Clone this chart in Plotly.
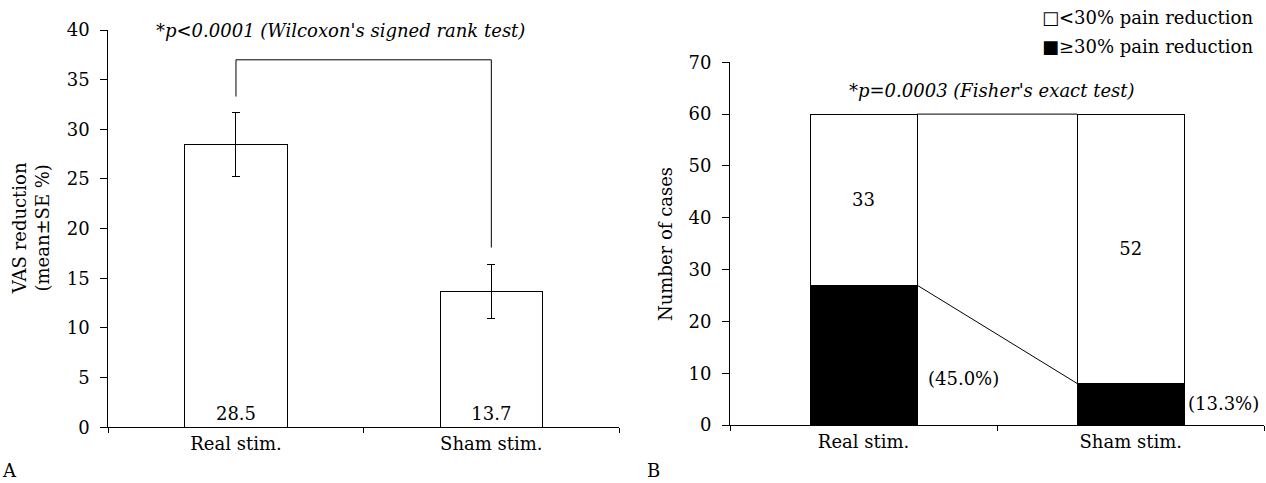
import plotly.graph_objects as go

# ---- data ----
groups = ["Real stim.", "Sham stim."]
vas_mean = [28.5, 13.7]
vas_se = [3.2, 2.7]
bracket_y = [33.3, 37.0, 18.1]          # left leg start, bracket top, right leg end
ge30 = [27, 8]                            # >=30% pain reduction
lt30 = [33, 52]                           # <30% pain reduction
pct_label_y = [8.9, 4.2]
left_ticks = list(range(0, 41, 5))
right_ticks = list(range(0, 71, 10))
legend_names = ["□<30% pain reduction", "■≥30% pain reduction"]

FONT = "DejaVu Serif"
FS = 18
W = 0.4
PW, PH = 1266, 483

fig = go.Figure()

# Panel A
fig.add_trace(go.Bar(
    x=groups, y=vas_mean, width=W,
    marker=dict(color="white", line=dict(color="black", width=1)),
    error_y=dict(type="data", array=vas_se, color="black", thickness=1, width=4),
    text=[f"{v:.1f}" for v in vas_mean], textposition="inside",
    insidetextanchor="start", textfont=dict(color="black", size=FS, family=FONT),
    showlegend=False, xaxis="x", yaxis="y", hoverinfo="skip"))

# Panel B
fig.add_trace(go.Bar(
    x=groups, y=ge30, width=W, name=legend_names[1],
    marker=dict(color="black", line=dict(color="black", width=1)),
    xaxis="x2", yaxis="y2", showlegend=False, hoverinfo="skip"))
fig.add_trace(go.Bar(
    x=groups, y=lt30, width=W, name=legend_names[0],
    marker=dict(color="white", line=dict(color="black", width=1)),
    text=[str(v) for v in lt30], textposition="inside", insidetextanchor="middle",
    textfont=dict(color="black", size=FS, family=FONT),
    xaxis="x2", yaxis="y2", showlegend=False, hoverinfo="skip"))

ln = dict(color="black", width=1)
shapes = [
    dict(type="line", xref="x", yref="y", x0=0, x1=0, y0=bracket_y[0], y1=bracket_y[1], line=ln),
    dict(type="line", xref="x", yref="y", x0=0, x1=1, y0=bracket_y[1], y1=bracket_y[1], line=ln),
    dict(type="line", xref="x", yref="y", x0=1, x1=1, y0=bracket_y[1], y1=bracket_y[2], line=ln),
]
tot = [a + b for a, b in zip(ge30, lt30)]
shapes.append(dict(type="line", xref="x2", yref="y2", x0=W / 2, x1=1 - W / 2, y0=tot[0], y1=tot[1], line=ln))
shapes.append(dict(type="line", xref="x2", yref="y2", x0=W / 2, x1=1 - W / 2, y0=ge30[0], y1=ge30[1], line=ln))

tf = dict(family=FONT, size=FS, color="black")
itf = dict(family=FONT, size=FS, color="black", style="italic")
annotations = [
    dict(text="*p<0.0001 (Wilcoxon's signed rank test)", xref="x domain", yref="y",
         x=0.4537, y=40, xanchor="center", yanchor="middle", showarrow=False, font=itf),
    dict(text="*p=0.0003 (Fisher's exact test)", xref="x2 domain", yref="y2",
         x=0.4896, y=64.5, xanchor="center", yanchor="middle", showarrow=False, font=itf),
    dict(text="VAS reduction<br>(mean±SE %)", textangle=-90, xref="paper", yref="paper",
         x=30.5 / PW, y=(PH - 228.7) / PH, xanchor="center", yanchor="middle", showarrow=False, font=tf),
    dict(text="Number of cases", textangle=-90, xref="paper", yref="paper",
         x=665 / PW, y=(PH - 244) / PH, xanchor="center", yanchor="middle", showarrow=False, font=tf),
    dict(text="A", xref="paper", yref="paper", x=0.0, y=0.0, xanchor="left", yanchor="bottom",
         showarrow=False, font=tf),
    dict(text="B", xref="paper", yref="paper", x=645 / PW, y=0.0, xanchor="left", yanchor="bottom",
         showarrow=False, font=tf),
]
for k, name in enumerate(legend_names):
    annotations.append(dict(text=name, xref="paper", yref="paper", x=1040 / PW,
                            y=(PH - (18 + 28.5 * k)) / PH, xanchor="left", yanchor="middle",
                            showarrow=False, font=tf))
shifts = [9, 2]
for i in range(2):
    annotations.append(dict(text=f"({ge30[i] / tot[i] * 100:.1f}%)", xref="x2", yref="y2",
                            x=i + W / 2, y=pct_label_y[i], xanchor="left", yanchor="middle",
                            xshift=shifts[i], showarrow=False, font=tf))

axis_common = dict(showline=True, linecolor="black", linewidth=1, showgrid=False, zeroline=False,
                   ticks="outside", tickcolor="black", tickfont=tf, automargin=False)

fig.update_layout(
    width=PW, height=PH, margin=dict(l=0, r=0, t=0, b=0),
    paper_bgcolor="white", plot_bgcolor="white",
    barmode="stack", showlegend=False,
    font=tf,
    xaxis=dict(domain=[108.3 / PW, 619 / PW], anchor="y", type="category", tickson="boundaries",
               ticklen=5, range=[-0.5, 1.5], **axis_common),
    yaxis=dict(domain=[(PH - 427.3) / PH, (PH - 30) / PH], anchor="x", range=[0, 40],
               tickvals=left_ticks, ticklen=7, ticklabelstandoff=7, **axis_common),
    xaxis2=dict(domain=[730 / PW, 1264.3 / PW], anchor="y2", type="category", tickson="boundaries",
                ticklen=5, range=[-0.5, 1.5], **axis_common),
    yaxis2=dict(domain=[(PH - 425) / PH, (PH - 62.3) / PH], anchor="x2", range=[0, 70],
                tickvals=right_ticks, ticklen=7, ticklabelstandoff=7, **axis_common),
    shapes=shapes, annotations=annotations,
)

fig.write_html("out.html")
